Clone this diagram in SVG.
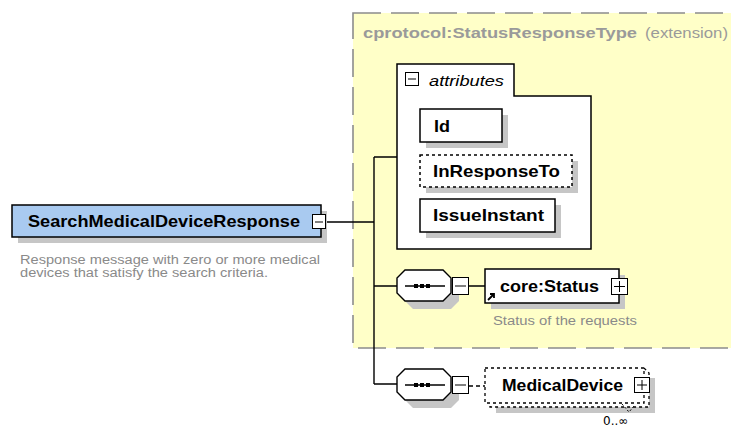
<svg xmlns="http://www.w3.org/2000/svg" width="731" height="428" viewBox="0 0 731 428">
<style>
.box{fill:#fff;stroke:#000;stroke-width:1.5}
.dash{stroke-dasharray:3,3}
.sh{fill:#c6c6c6}
.b{font-family:"Liberation Sans",Arial,sans-serif;font-weight:bold;font-size:16.5px;fill:#000}
.d{font-family:"Liberation Sans",Arial,sans-serif;font-size:12.5px;fill:#8a8a8a}
.ln{stroke:#000;stroke-width:1.4;fill:none}
</style>
<rect width="731" height="428" fill="#fff"/>
<g id="extension">
<rect x="353" y="13" width="400" height="335" fill="#ffffc8" stroke="#8c8c8c" stroke-width="1.6" stroke-dasharray="28,10"/>
<text x="363" y="38" font-family="'Liberation Sans',Arial,sans-serif" font-size="15.5" fill="#9a9a9a" font-weight="bold" textLength="274" lengthAdjust="spacingAndGlyphs">cprotocol:StatusResponseType</text>
<text x="645" y="38" font-family="'Liberation Sans',Arial,sans-serif" font-size="15.5" fill="#9a9a9a" textLength="83" lengthAdjust="spacingAndGlyphs">(extension)</text>
</g>
<g id="connectors">
<path class="ln" d="M325 222H374M374 157V384M374 157H397M374 286H397M374 384H397M469 286H485"/>
<path class="ln" d="M469 386H485" stroke-dasharray="4,3"/>
</g>
<g id="attributes">
<path d="M397 64H514V96H591V249H397Z" fill="#fff" stroke="#000" stroke-width="1.5"/>
<rect x="405.5" y="72.5" width="13" height="13" fill="#fff" stroke="#000"/>
<path d="M408 79H416" stroke="#000"/>
<text x="429" y="86" font-family="'Liberation Sans',Arial,sans-serif" font-style="italic" font-size="15.5" fill="#000" textLength="75" lengthAdjust="spacingAndGlyphs">attributes</text>
</g>
<g id="Id">
<rect class="sh" x="426" y="115" width="82" height="33"/>
<rect class="box" x="420" y="109" width="82" height="33"/>
<text class="b" x="434" y="132" textLength="16" lengthAdjust="spacingAndGlyphs">Id</text>
</g>
<g id="InResponseTo">
<rect class="sh" x="426" y="161" width="152" height="32"/>
<rect class="box dash" x="420" y="155" width="152" height="32"/>
<text class="b" x="433" y="177" textLength="127" lengthAdjust="spacingAndGlyphs">InResponseTo</text>
</g>
<g id="IssueInstant">
<rect class="sh" x="426" y="205" width="135" height="33"/>
<rect class="box" x="420" y="199" width="135" height="33"/>
<text class="b" x="433" y="221" textLength="111" lengthAdjust="spacingAndGlyphs">IssueInstant</text>
</g>
<g id="SearchMedicalDeviceResponse">
<rect class="sh" x="18" y="211" width="309" height="32"/>
<rect x="12" y="205" width="309" height="32" fill="#a9caf0" stroke="#000" stroke-width="1.5"/>
<text class="b" x="28" y="227" textLength="272" lengthAdjust="spacingAndGlyphs">SearchMedicalDeviceResponse</text>
<rect x="312.5" y="214.5" width="13" height="14" fill="#fff" stroke="#000"/>
<path d="M315 222H323" stroke="#000"/>
<text class="d" x="20" y="264" textLength="300" lengthAdjust="spacingAndGlyphs">Response message with zero or more medical</text>
<text class="d" x="20" y="277" textLength="248" lengthAdjust="spacingAndGlyphs">devices that satisfy the search criteria.</text>
</g>
<g id="sequence1">
<path class="sh" d="M413 278H451L459 286V301L451 309H413L405 301V286Z"/>
<path d="M405 270H443L451 278V293L443 301H405L397 293V278Z" fill="#fff" stroke="#000" stroke-width="1.4"/>
<path d="M405 286H445" stroke="#000" stroke-width="1.3"/>
<rect x="414" y="284" width="4" height="4"/><rect x="420" y="284" width="4" height="4"/><rect x="426" y="284" width="4" height="4"/>
<rect x="452.5" y="277.5" width="16" height="17" fill="#fff" stroke="#000"/>
<path d="M455 286H466" stroke="#000"/>
</g>
<g id="core-Status">
<rect class="sh" x="491" y="275" width="134" height="34"/>
<rect class="box" x="485" y="269" width="134" height="34"/>
<text class="b" x="500" y="292" textLength="99" lengthAdjust="spacingAndGlyphs">core:Status</text>
<rect x="611.5" y="278.5" width="16" height="16" fill="#fff" stroke="#000"/>
<path d="M614 286.5H625M619.5 281V292" stroke="#000"/>
<path d="M488 300L494 294M490 294H494V298" stroke="#000" stroke-width="1.8" fill="none"/>
<text class="d" x="493" y="325" textLength="144" lengthAdjust="spacingAndGlyphs">Status of the requests</text>
</g>
<g id="sequence2">
<path class="sh" d="M413 377H451L459 385V400L451 408H413L405 400V385Z"/>
<path d="M405 369H443L451 377V392L443 400H405L397 392V377Z" fill="#fff" stroke="#000" stroke-width="1.4"/>
<path d="M405 385H445" stroke="#000" stroke-width="1.3"/>
<rect x="414" y="383" width="4" height="4"/><rect x="420" y="383" width="4" height="4"/><rect x="426" y="383" width="4" height="4"/>
<rect x="452.5" y="376.5" width="16" height="17" fill="#fff" stroke="#000"/>
<path d="M455 385H466" stroke="#000"/>
</g>
<g id="MedicalDevice">
<rect class="sh" x="496" y="407" width="159" height="6"/>
<rect class="sh" x="649" y="378" width="6" height="35"/>
<path d="M644 368L649 373V407H490V403" fill="#fff" stroke="#000" stroke-width="1.3" stroke-dasharray="3,3"/>
<rect x="485" y="368" width="159" height="35" fill="#fff" stroke="#000" stroke-width="1.3" stroke-dasharray="3,3"/>
<text class="b" x="502" y="391" textLength="121" lengthAdjust="spacingAndGlyphs">MedicalDevice</text>
<rect x="634.5" y="377.5" width="15" height="15" fill="#fff" stroke="#000"/>
<path d="M637 385H647M642 380V390" stroke="#000"/>
<path d="M622 404L629 412L634 406" stroke="#000" stroke-dasharray="2,2" fill="none"/>
<text x="603" y="425" font-family="'DejaVu Sans',sans-serif" font-size="12" fill="#000">0..∞</text>
</g>
</svg>
